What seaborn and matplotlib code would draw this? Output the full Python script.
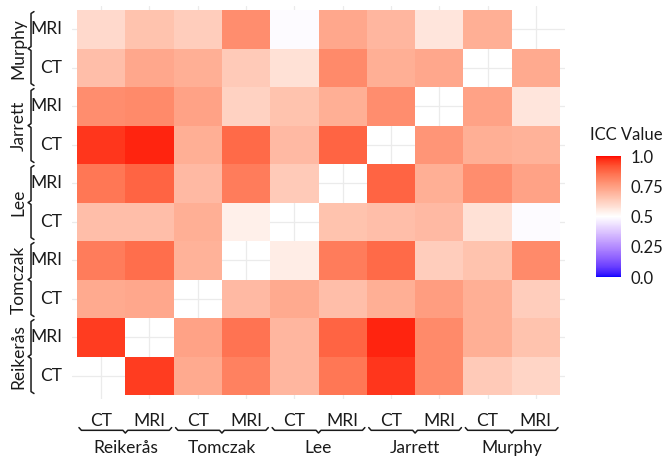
import numpy as np
import pandas as pd
import matplotlib
matplotlib.use("Agg")
import matplotlib.pyplot as plt
import matplotlib.transforms as mtransforms
from matplotlib.colors import ListedColormap
import seaborn as sns

#%% Data
studies = ['Reikerås', 'Tomczak', 'Lee', 'Jarrett', 'Murphy']
modalities = ['CT', 'MRI']
nan = np.nan

# one list per row, columns in the order Reikerås CT ... Murphy MRI
reikeras_ct = [nan, 0.95, 0.72, 0.82, 0.69, 0.84, 0.96, 0.80, 0.64, 0.61]
reikeras_mri = [0.95, nan, 0.74, 0.85, 0.69, 0.88, 0.98, 0.80, 0.71, 0.66]
tomczak_ct = [0.72, 0.73, nan, 0.68, 0.72, 0.67, 0.71, 0.75, 0.71, 0.63]
tomczak_mri = [0.83, 0.86, 0.70, nan, 0.55, 0.83, 0.87, 0.63, 0.66, 0.80]
lee_ct = [0.67, 0.67, 0.71, 0.54, nan, 0.66, 0.67, 0.68, 0.58, 0.49]
lee_mri = [0.84, 0.88, 0.68, 0.83, 0.64, nan, 0.88, 0.71, 0.79, 0.74]
jarrett_ct = [0.96, 0.98, 0.71, 0.87, 0.68, 0.88, nan, 0.77, 0.71, 0.70]
jarrett_mri = [0.79, 0.80, 0.74, 0.62, 0.66, 0.71, 0.79, nan, 0.74, 0.57]
murphy_ct = [0.67, 0.73, 0.71, 0.64, 0.58, 0.80, 0.71, 0.73, nan, 0.72]
murphy_mri = [0.60, 0.66, 0.63, 0.79, 0.49, 0.73, 0.69, 0.57, 0.71, nan]

cbar_ticks = [0.0, 0.25, 0.5, 0.75, 1.0]
cbar_ticklabels = ['0.0', '0.25', '0.5', '0.75', '1.0']

labels = [f'{s} {m}' for s in studies for m in modalities]
rows = [reikeras_ct, reikeras_mri, tomczak_ct, tomczak_mri, lee_ct,
        lee_mri, jarrett_ct, jarrett_mri, murphy_ct, murphy_mri]
df = pd.DataFrame(rows, index=labels, columns=labels).iloc[::-1]  # Murphy MRI on top


#%% Colour scale: blue - white - red, interpolated in Lab (like ggplot gradient2)
M = np.array([[0.4124, 0.3576, 0.1805],
              [0.2126, 0.7152, 0.0722],
              [0.0193, 0.1192, 0.9505]])
WHITE = np.array([0.95047, 1.0, 1.08883])


def to_lab(rgb):
    c = np.asarray(rgb, float)
    lin = np.where(c <= 0.04045, c / 12.92, ((c + 0.055) / 1.055) ** 2.4)
    xyz = M @ lin / WHITE
    f = np.where(xyz > 0.008856, np.cbrt(xyz), 7.787 * xyz + 16 / 116)
    return np.array([116 * f[1] - 16, 500 * (f[0] - f[1]), 200 * (f[1] - f[2])])


def from_lab(lab):
    fy = (lab[0] + 16) / 116
    f = np.array([fy + lab[1] / 500, fy, fy - lab[2] / 200])
    xyz = np.where(f ** 3 > 0.008856, f ** 3, (f - 16 / 116) / 7.787) * WHITE
    lin = np.clip(np.linalg.inv(M) @ xyz, 0, 1)
    return np.where(lin <= 0.0031308, 12.92 * lin, 1.055 * lin ** (1 / 2.4) - 0.055)


blue, white, red = to_lab([0, 0, 1]), to_lab([1, 1, 1]), to_lab([1, 0, 0])
colors = [from_lab(blue + (white - blue) * t) for t in np.linspace(0, 1, 128)]
colors += [from_lab(white + (red - white) * t) for t in np.linspace(0, 1, 128)]
cmap = ListedColormap(np.clip(colors, 0, 1))


#%% Figure
sns.set_theme(style="white")
plt.rcParams['font.family'] = ['Lato', 'DejaVu Sans']
txt = '#1a1a1a'

W, H = 666, 466
fig = plt.figure(figsize=(W / 100, H / 100), dpi=100)
ax = fig.add_axes([72.2 / W, (H - 398.9) / H, 492.6 / W, 392.7 / H])
cax = fig.add_axes([596 / W, (H - 277) / H, 25 / W, 121 / H])

sns.heatmap(df, ax=ax, cmap=cmap, vmin=0, vmax=1, cbar_ax=cax,
            cbar_kws=dict(ticks=cbar_ticks))

ax.set_xlim(-0.1, 10.1)
ax.set_ylim(10.1, -0.1)
ax.set_axisbelow(True)
ax.grid(True, color='#ebebeb', linewidth=0.9)
ax.set_xlabel('')
ax.set_ylabel('')
ax.set_xticklabels([l.split()[-1] for l in df.columns], rotation=0, fontsize=12.5, color=txt)
ax.set_yticklabels([l.split()[-1] for l in df.index], rotation=0, fontsize=12.5, color=txt)
ax.tick_params(axis='x', length=0, pad=10)
ax.tick_params(axis='y', length=0, pad=7)
for s in ax.spines.values():
    s.set_visible(False)

# group brackets under the x axis
tx = mtransforms.blended_transform_factory(ax.transData, ax.transAxes)
by, hy = -0.080, 0.007
for i, s in enumerate(studies):
    x0, x1 = 2 * i + 0.04, 2 * i + 1.96
    xm = (x0 + x1) / 2
    ax.plot([x0, x0 + 0.05, xm - 0.05, xm, xm + 0.05, x1 - 0.05, x1],
            [by + hy, by, by, by - hy, by, by, by + hy],
            transform=tx, clip_on=False, color=txt, lw=1.1)
    ax.text(2 * i + 1, -0.125, s, transform=tx, ha='center', va='center',
            fontsize=12.5, color=txt)

# group brackets left of the y axis (Reikerås at the bottom)
ty = mtransforms.blended_transform_factory(ax.transAxes, ax.transData)
bx, hx = -0.0836, 0.006
for i, s in enumerate(studies):
    y1, y0 = 10 - 2 * i - 0.04, 10 - 2 * i - 1.96
    ym = (y0 + y1) / 2
    ax.plot([bx + hx, bx, bx, bx - hx, bx, bx, bx + hx],
            [y0, y0 + 0.05, ym - 0.05, ym, ym + 0.05, y1 - 0.05, y1],
            transform=ty, clip_on=False, color=txt, lw=1.1)
    ax.text(-0.109, 10 - 2 * i - 1, s, transform=ty, ha='center', va='center',
            rotation=90, fontsize=12.5, color=txt)

# colour bar
cax.set_yticks(cbar_ticks)
cax.set_yticklabels(cbar_ticklabels, fontsize=12, color=txt)
cax.tick_params(axis='y', direction='in', color='white', length=5, width=1, pad=7)
for s in cax.spines.values():
    s.set_visible(False)
fig.text(590 / W, 1 - 135 / H, 'ICC Value', ha='left', va='center', fontsize=12, color=txt)

fig.savefig('out.png', dpi=100)
